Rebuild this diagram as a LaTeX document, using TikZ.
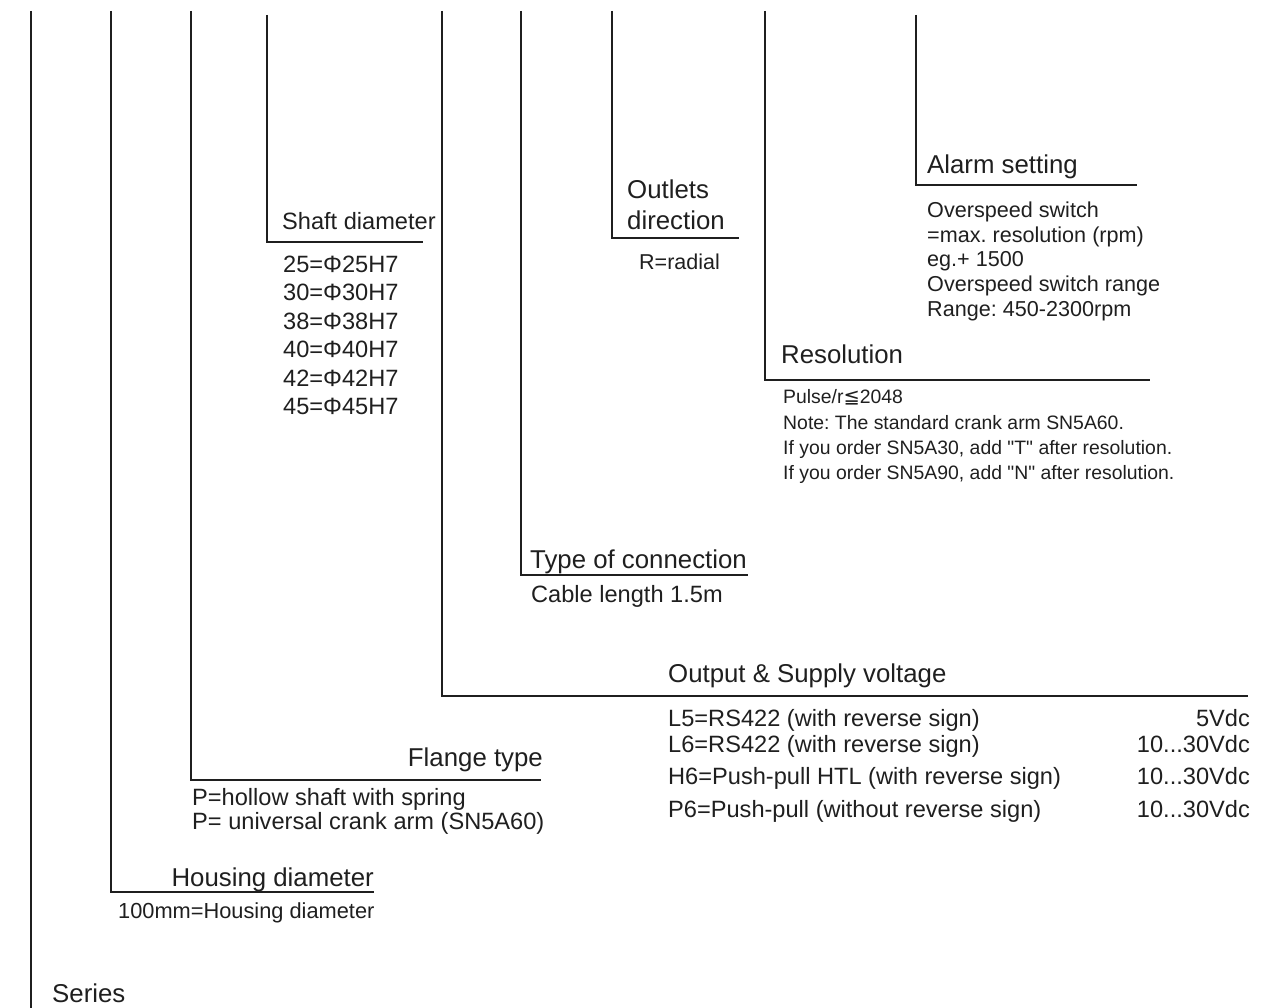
\documentclass[tikz,border=0pt]{standalone}
\usepackage{fontspec}
\setmainfont{Liberation Sans}
\newfontfamily\dejavu{DejaVu Sans}
\frenchspacing
\begin{document}
\begin{tikzpicture}[x=1pt,y=-1pt,
  ln/.style={line width=1.7pt, draw=black!88},
  txt/.style={anchor=base west, inner sep=0pt, text=black!88},
  txtr/.style={anchor=base east, inner sep=0pt, text=black!88},
  big/.style={font=\fontsize{25.8}{30}\selectfont},
  mid/.style={font=\fontsize{23.6}{28}\selectfont},
  sml/.style={font=\fontsize{21.6}{26}\selectfont},
  tiny/.style={font=\fontsize{19.4}{23}\selectfont}
]
\useasboundingbox (0,0) rectangle (1262,1008);

% line end points
\coordinate (s1) at (31,11);   \coordinate (e1) at (31,1008);
\coordinate (s2) at (111,11);  \coordinate (e2) at (374,892);
\coordinate (s3) at (191,11);  \coordinate (e3) at (541,780);
\coordinate (s4) at (267,15);  \coordinate (e4) at (423,242);
\coordinate (s5) at (442,11);  \coordinate (e5) at (1248,696);
\coordinate (s6) at (521,11);  \coordinate (e6) at (748,575);
\coordinate (s7) at (612,11);  \coordinate (e7) at (739,238);
\coordinate (s8) at (765,11);  \coordinate (e8) at (1150,380);
\coordinate (s9) at (916,15);  \coordinate (e9) at (1137,185);

\draw[ln] (s1) -- (e1);
\draw[ln] (s2) |- (e2);
\draw[ln] (s3) |- (e3);
\draw[ln] (s4) |- (e4);
\draw[ln] (s5) |- (e5);
\draw[ln] (s6) |- (e6);
\draw[ln] (s7) |- (e7);
\draw[ln] (s8) |- (e8);
\draw[ln] (s9) |- (e9);

% Alarm setting
\node[txt,big] (alarm) at (927,174) {Alarm setting};
\node[txt,sml] (al1) at (927,218) {Overspeed switch};
\node[txt,sml] (al2) at (927,243) {=max. resolution (rpm)};
\node[txt,sml] (al3) at (927,267) {eg.+ 1500};
\node[txt,sml] (al4) at (927,292) {Overspeed switch range};
\node[txt,sml] (al5) at (927,317) {Range: 450-2300rpm};

% Outlets direction
\node[txt,big] (out1) at (627,199) {Outlets};
\node[txt,big] (out2) at (627,230) {direction};
\node[txt,font=\fontsize{21.5}{26}\selectfont] (rad) at (639,270) {R=radial};

% Shaft diameter
\node[txt,mid] (shaft) at (282,230) {Shaft diameter};
\node[txt,mid] (sh1) at (283,273) {25=Φ25H7};
\node[txt,mid] (sh2) at (283,301) {30=Φ30H7};
\node[txt,mid] (sh3) at (283,330) {38=Φ38H7};
\node[txt,mid] (sh4) at (283,358) {40=Φ40H7};
\node[txt,mid] (sh5) at (283,387) {42=Φ42H7};
\node[txt,mid] (sh6) at (283,415) {45=Φ45H7};

% Resolution
\node[txt,big] (res) at (781,364) {Resolution};
\node[txt,tiny] (rs1) at (783,404) {Pulse/r{\dejavu ≦}2048};
\node[txt,tiny] (rs2) at (783,429) {Note: The standard crank arm SN5A60.};
\node[txt,tiny] (rs3) at (783,454) {If you order SN5A30, add \textquotedbl T\textquotedbl\ after resolution.};
\node[txt,tiny] (rs4) at (783,479) {If you order SN5A90, add \textquotedbl N\textquotedbl\ after resolution.};

% Type of connection
\node[txt,big] (conn) at (530,568) {Type of connection};
\node[txt,mid] (cab) at (531,602) {Cable length 1.5m};

% Output & Supply voltage
\node[txt,big] (outp) at (668,682) {Output \& Supply voltage};
\node[txt,mid] (o1) at (668,726) {L5=RS422 (with reverse sign)};
\node[txt,mid] (o2) at (668,752) {L6=RS422 (with reverse sign)};
\node[txt,mid] (o3) at (668,784) {H6=Push-pull HTL (with reverse sign)};
\node[txt,mid] (o4) at (668,817) {P6=Push-pull (without reverse sign)};
\node[txtr,mid] (v1) at (1250,726) {5Vdc};
\node[txtr,mid] (v2) at (1250,752) {10...30Vdc};
\node[txtr,mid] (v3) at (1250,784) {10...30Vdc};
\node[txtr,mid] (v4) at (1250,817) {10...30Vdc};

% Flange type
\node[txtr,big] (fl) at (543,766) {Flange type};
\node[txt,mid] (fl1) at (192,805) {P=hollow shaft with spring};
\node[txt,mid] (fl2) at (192,829) {P= universal crank arm (SN5A60)};

% Housing diameter
\node[txtr,big] (hd) at (374,886) {Housing diameter};
\node[txt,font=\fontsize{21.8}{26}\selectfont] (hd1) at (118,918) {100mm=Housing diameter};

% Series
\node[txt,big] (ser) at (52,1002) {Series};
\end{tikzpicture}
\end{document}
